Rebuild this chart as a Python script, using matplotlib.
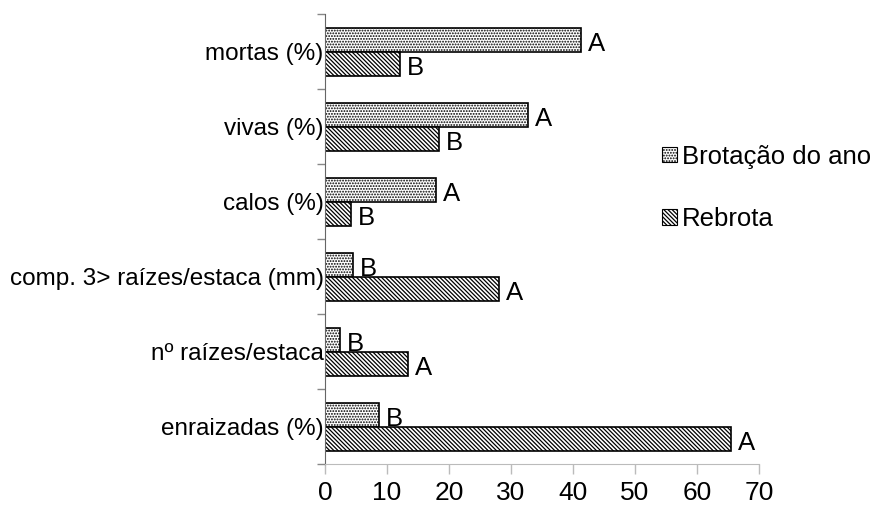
import matplotlib.pyplot as plt
import numpy as np
from matplotlib.patches import Patch

plt.rcParams['font.family'] = ['Liberation Sans', 'DejaVu Sans']
plt.rcParams['hatch.linewidth'] = 0.9

# categories from bottom to top
categories = ['enraizadas (%)', 'nº raízes/estaca', 'comp. 3> raízes/estaca (mm)',
              'calos (%)', 'vivas (%)', 'mortas (%)']
brotacao = [8.7, 2.4, 4.5, 17.9, 32.7, 41.3]
rebrota = [65.5, 13.4, 28.0, 4.2, 18.4, 12.1]
letters_brot = ['B', 'B', 'B', 'A', 'A', 'A']
letters_rebr = ['A', 'A', 'A', 'B', 'B', 'B']
series_names = ['Brotação do ano', 'Rebrota']

HATCH_DOTS = '......'
HATCH_LINES = '\\' * 8

fig = plt.figure(figsize=(8.77, 5.15), dpi=100)
ax = fig.add_axes([0.3706, 0.099, 0.4949, 0.8738])

y = np.arange(len(categories))
h = 0.32
b1 = ax.barh(y + h / 2, brotacao, height=h, color='white', edgecolor='black',
             linewidth=1.2, hatch=HATCH_DOTS)
b2 = ax.barh(y - h / 2, rebrota, height=h, color='white', edgecolor='black',
             linewidth=1.2, hatch=HATCH_LINES)

# significance letters next to bar ends
for rects, letters in ((b1, letters_brot), (b2, letters_rebr)):
    for r, lt in zip(rects, letters):
        ax.annotate(lt, (r.get_width(), r.get_y() + r.get_height() / 2),
                    xytext=(5, -3), textcoords='offset points',
                    ha='left', va='center', fontsize=18.5)

ax.set_xlim(0, 70)
ax.set_ylim(-0.5, len(categories) - 0.5)
ax.set_xticks(np.arange(0, 71, 10))
ax.set_yticks(y)
ax.set_yticklabels(categories)
ax.set_yticks(np.arange(-0.5, len(categories), 1), minor=True)

ax.tick_params(axis='y', which='major', length=0, pad=1, labelsize=17.5)
ax.tick_params(axis='y', which='minor', length=6, color='#888888', width=1)
ax.tick_params(axis='x', length=7, color='#bbbbbb', width=1, pad=5, labelsize=19)

for lab in ax.get_yticklabels():
    lab.set_verticalalignment('center_baseline')

ax.spines['top'].set_visible(False)
ax.spines['right'].set_visible(False)
ax.spines['left'].set_color('#666666')
ax.spines['bottom'].set_color('#bbbbbb')

handles = [Patch(facecolor='white', edgecolor='black', hatch=HATCH_DOTS, linewidth=0.8),
           Patch(facecolor='white', edgecolor='black', hatch=HATCH_LINES, linewidth=0.8)]
fig.legend(handles, series_names, loc='center left', bbox_to_anchor=(0.729, 0.635),
           frameon=False, fontsize=18.5, handlelength=0.55, handleheight=0.55,
           handletextpad=0.2, labelspacing=1.5)

fig.savefig('out.png', dpi=100)
